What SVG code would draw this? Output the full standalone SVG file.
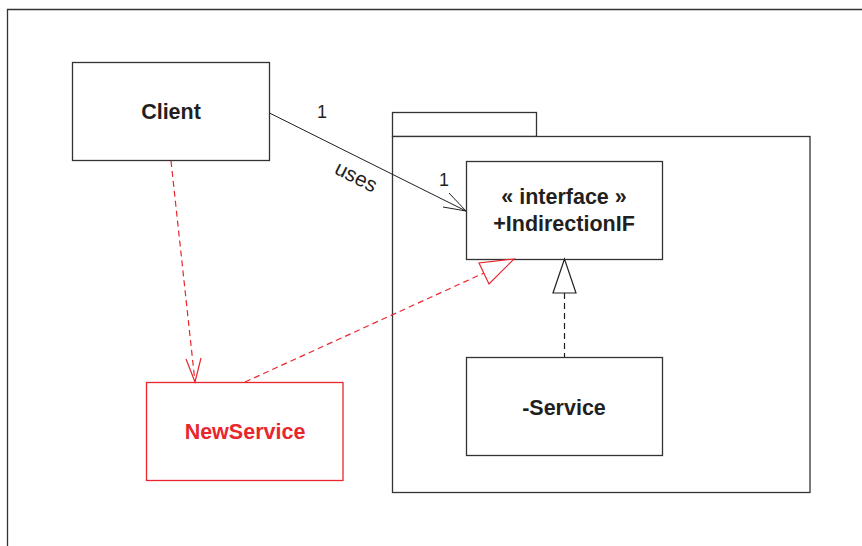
<svg xmlns="http://www.w3.org/2000/svg" width="862" height="546" viewBox="0 0 862 546">
<style>
.box{fill:#fff;stroke:#333;stroke-width:1.3}
.red{fill:#fff;stroke:#e8262e;stroke-width:1.3}
.lbl{font-family:"Liberation Sans",Arial,sans-serif;font-weight:bold;font-size:21.5px;fill:#231f20;text-anchor:middle}
.rlbl{font-family:"Liberation Sans",Arial,sans-serif;font-weight:bold;font-size:21.5px;fill:#e8262e;text-anchor:middle}
.sm{font-family:"Liberation Sans",Arial,sans-serif;font-size:18px;fill:#231f20;text-anchor:middle}
.ln{fill:none;stroke:#231f20;stroke-width:1}
.rdash{fill:none;stroke:#e8262e;stroke-width:1.2;stroke-dasharray:6,4}
.kdash{fill:none;stroke:#231f20;stroke-width:1.2;stroke-dasharray:6,4}
</style>
<rect width="862" height="546" fill="#fff"/>
<path d="M7.5,546 V9.5 H862" fill="none" stroke="#333" stroke-width="1.3"/>
<g id="package">
<rect x="392.5" y="112.5" width="144" height="24" class="box"/>
<rect x="392.5" y="136.5" width="417.5" height="356" class="box"/>
</g>
<g id="client">
<rect x="72.5" y="62.5" width="197" height="98" class="box"/>
<text x="171" y="118.5" class="lbl">Client</text>
</g>
<g id="indirectionIF">
<rect x="466.5" y="161.5" width="196" height="98" class="box"/>
<text x="564" y="204" class="lbl">« interface »</text>
<text x="564" y="231" class="lbl">+IndirectionIF</text>
</g>
<g id="service">
<rect x="466.5" y="357.5" width="196" height="98" class="box"/>
<text x="564" y="414.5" class="lbl">-Service</text>
</g>
<g id="newService">
<rect x="146.5" y="382.5" width="196.5" height="98" class="red"/>
<text x="245" y="439" class="rlbl">NewService</text>
</g>
<g id="connectors">
<line x1="269.5" y1="113" x2="466" y2="211" class="ln"/>
<polyline points="449,193 466,211 443,207" class="ln"/>
<text x="322" y="118" class="sm">1</text>
<text x="444" y="186" class="sm">1</text>
<text x="353" y="183" class="sm" style="font-size:21px" transform="rotate(26.5 353 183)">uses</text>
<line x1="171" y1="161" x2="195" y2="382" class="rdash"/>
<polyline points="186,359 195,382 201,358" fill="none" stroke="#e8262e" stroke-width="1.2"/>
<line x1="245" y1="382" x2="484" y2="273" class="rdash"/>
<polygon points="514,259 479,263 489,284" fill="#fff" stroke="#e8262e" stroke-width="1.2"/>
<line x1="564.5" y1="293" x2="564.5" y2="357" class="kdash"/>
<polygon points="564.5,259 553,293 576,293" fill="#fff" stroke="#231f20" stroke-width="1.2"/>
</g>
</svg>
